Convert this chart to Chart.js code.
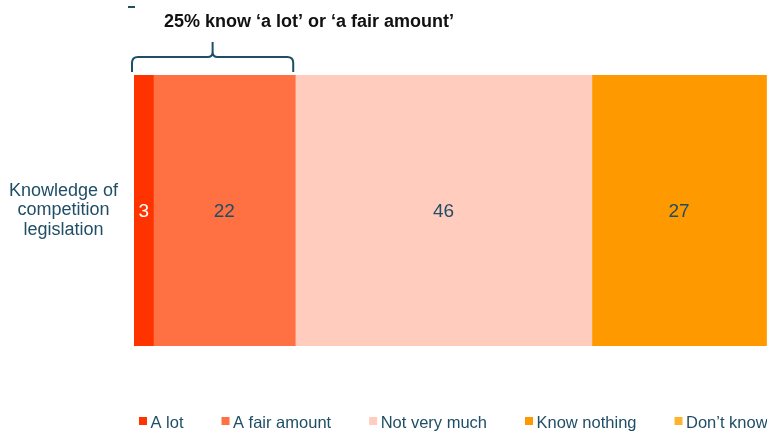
<!DOCTYPE html>
<html><head><meta charset="utf-8">
<script src="https://cdn.jsdelivr.net/npm/chart.js@4/dist/chart.umd.min.js"></script>
<style>html,body{margin:0;padding:0;overflow:hidden;background:#fff}#wrap{position:relative;width:767px;height:431px}</style>
</head><body><div id="wrap"><canvas id="c" width="767" height="431"></canvas></div>
<script>
const categories = [["Knowledge of", "competition", "legislation"]];
const seriesNames = ["A lot", "A fair amount", "Not very much", "Know nothing", "Don’t know"];
const aLot = [3];
const aFairAmount = [22];
const notVeryMuch = [46];
const knowNothing = [27];
const dontKnow = [2];
const annotationText = "25% know ‘a lot’ or ‘a fair amount’";

const seriesValues = [aLot, aFairAmount, notVeryMuch, knowNothing, dontKnow];
const seriesColors = ["#FF3300", "#FF7043", "#FFCCBD", "#FF9900", "#FFB42E"];
const labelColors = ["#FFFFFF", "#1F4E66", "#1F4E66", "#1F4E66", "#1F4E66"];
const TEAL = "#1F4E66";
const FONT = "'Liberation Sans', Arial, sans-serif";
const visibleMax = 98.15; // the original picture is cropped on the right

Chart.defaults.font.family = FONT;

const valueLabels = {
  id: 'valueLabels',
  afterDatasetsDraw(chart) {
    const ctx = chart.ctx;
    ctx.save();
    ctx.font = "19px " + FONT;
    ctx.textAlign = 'center';
    ctx.textBaseline = 'middle';
    chart.data.datasets.forEach((ds, i) => {
      const meta = chart.getDatasetMeta(i);
      meta.data.forEach((bar, j) => {
        const p = bar.getProps(['x', 'base', 'y'], true);
        ctx.fillStyle = labelColors[i];
        ctx.fillText(String(ds.data[j]), (p.x + p.base) / 2, p.y + 1);
      });
    });
    ctx.restore();
  }
};

const braceNote = {
  id: 'braceNote',
  afterDraw(chart) {
    const ctx = chart.ctx;
    const xs = chart.scales.x;
    const top = chart.chartArea.top;
    const x0 = xs.getPixelForValue(0) - 2;
    const x1 = xs.getPixelForValue(aLot[0] + aFairAmount[0]) - 2;
    const xm = (x0 + x1) / 2;
    const yb = top - 3, ym = top - 18, yt = top - 33;
    ctx.save();
    ctx.strokeStyle = TEAL;
    ctx.lineWidth = 2;
    ctx.lineJoin = 'round';
    ctx.beginPath();
    ctx.moveTo(x0, yb);
    ctx.lineTo(x0, ym + 6);
    ctx.quadraticCurveTo(x0, ym, x0 + 6, ym);
    ctx.lineTo(xm - 5, ym);
    ctx.quadraticCurveTo(xm, ym, xm, ym - 5);
    ctx.lineTo(xm, yt);
    ctx.moveTo(x1, yb);
    ctx.lineTo(x1, ym + 6);
    ctx.quadraticCurveTo(x1, ym, x1 - 6, ym);
    ctx.lineTo(xm + 5, ym);
    ctx.quadraticCurveTo(xm, ym, xm, ym - 5);
    ctx.stroke();
    ctx.fillStyle = TEAL;
    ctx.fillRect(x0 - 4, 6, 7, 2);
    ctx.fillStyle = "#111111";
    ctx.font = "bold 18px " + FONT;
    ctx.textAlign = 'left';
    ctx.textBaseline = 'alphabetic';
    ctx.fillText(annotationText, x0 + 32, 27);
    ctx.restore();
  }
};

const legendRow = {
  id: 'legendRow',
  afterDraw(chart) {
    const ctx = chart.ctx;
    ctx.save();
    ctx.font = "16.5px " + FONT;
    ctx.textAlign = 'left';
    ctx.textBaseline = 'alphabetic';
    let x = chart.scales.x.getPixelForValue(0) + 5;
    chart.data.datasets.forEach((ds) => {
      ctx.fillStyle = ds.backgroundColor;
      ctx.fillRect(x, 417, 8, 8);
      ctx.fillStyle = TEAL;
      ctx.fillText(ds.label, x + 11.5, 427.5);
      x += 11.5 + ctx.measureText(ds.label).width + 38;
    });
    ctx.restore();
  }
};

new Chart(document.getElementById('c'), {
  type: 'bar',
  data: {
    labels: categories,
    datasets: seriesValues.map((v, i) => ({
      label: seriesNames[i],
      data: v,
      backgroundColor: seriesColors[i],
      borderWidth: 0,
      barPercentage: 1,
      categoryPercentage: 1
    }))
  },
  options: {
    indexAxis: 'y',
    responsive: false,
    devicePixelRatio: 1,
    animation: false,
    layout: { padding: { top: 75, left: 0, right: 0, bottom: 85 } },
    scales: {
      x: { stacked: true, min: 0, max: visibleMax, display: false },
      y: {
        stacked: true,
        grid: { display: false, drawTicks: false },
        border: { display: false },
        ticks: { color: TEAL, font: { size: 18, lineHeight: 1.1 }, crossAlign: 'center', padding: 16 },
        afterFit(s) { s.width = 134; }
      }
    },
    plugins: {
      legend: { display: false },
      tooltip: { enabled: false }
    }
  },
  plugins: [valueLabels, braceNote, legendRow]
});
</script>
</body></html>
